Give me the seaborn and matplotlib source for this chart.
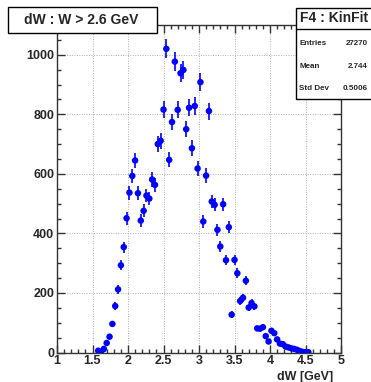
import numpy as np
import pandas as pd
import matplotlib
matplotlib.use("Agg")
import matplotlib.pyplot as plt
from matplotlib.patches import Rectangle
from matplotlib.ticker import MultipleLocator
import seaborn as sns

# Histogram of dW for events with W > 2.6 GeV (bin width 0.04 GeV)
dw_centers = [
    1.58, 1.62, 1.66, 1.70, 1.74, 1.78, 1.82, 1.86, 1.90, 1.94,
    1.98, 2.02, 2.06, 2.10, 2.14, 2.18, 2.22, 2.26, 2.30, 2.34,
    2.38, 2.42, 2.46, 2.50, 2.54, 2.58, 2.62, 2.66, 2.70, 2.74,
    2.78, 2.82, 2.86, 2.90, 2.94, 2.98, 3.02, 3.06, 3.10, 3.14,
    3.18, 3.22, 3.26, 3.30, 3.34, 3.38, 3.42, 3.46, 3.50, 3.54,
    3.58, 3.62, 3.66, 3.70, 3.74, 3.78, 3.82, 3.86, 3.90, 3.94,
    3.98, 4.02, 4.06, 4.10, 4.14, 4.18, 4.22, 4.26, 4.30, 4.34,
    4.38, 4.42, 4.46, 4.50, 4.54,
]
counts = [
    6, 2, 12, 32, 53, 96, 156, 212, 293, 354,
    451, 537, 593, 645, 535, 443, 476, 527, 517, 581,
    563, 700, 711, 816, 1020, 647, 774, 977, 815, 938,
    949, 750, 822, 686, 828, 618, 908, 440, 594, 811,
    507, 496, 412, 356, 498, 310, 421, 127, 311, 266,
    173, 184, 241, 151, 166, 155, 81, 80, 85, 55,
    37, 73, 65, 44, 30, 28, 20, 17, 14, 12,
    9, 5, 2, 1, 1,
]

hist_title = "dW : W > 2.6 GeV"
stats_title = "F4 : KinFit"
stats_labels = ["Entries", "Mean", "Std Dev"]
stats_values = ["27270", "2.744", "0.5006"]
x_label = "dW [GeV]"

df = pd.DataFrame({"dW": dw_centers, "n": counts})
df["err"] = np.sqrt(df["n"])

sns.set_theme(style="white")
plt.rcParams["font.family"] = ["Liberation Sans", "DejaVu Sans"]
plt.rcParams["font.weight"] = "bold"

W, H = 371, 382
fig = plt.figure(figsize=(W / 100, H / 100), dpi=100)
fig.patch.set_facecolor("white")

ax_l, ax_r, ax_t, ax_b = 57, 341, 25, 352.5
ax = fig.add_axes([ax_l / W, 1 - ax_b / H, (ax_r - ax_l) / W, (ax_b - ax_t) / H])
ax.set_facecolor("white")

# Poisson error bars, then markers
ax.errorbar(df["dW"], df["n"], yerr=df["err"], fmt="none", ecolor="#0000ff",
            elinewidth=1.2, capsize=0, zorder=3)
sns.scatterplot(data=df, x="dW", y="n", ax=ax, color="#0000ff", s=22,
                edgecolor="none", linewidth=0, zorder=4)

ax.set_xlim(1, 5)
ax.set_ylim(0, 1100)
ax.set_xlabel("")
ax.set_ylabel("")

ax.xaxis.set_major_locator(MultipleLocator(0.5))
ax.xaxis.set_minor_locator(MultipleLocator(0.1))
ax.yaxis.set_major_locator(MultipleLocator(200))
ax.yaxis.set_minor_locator(MultipleLocator(50))
ax.xaxis.set_major_formatter(matplotlib.ticker.FuncFormatter(lambda v, p: f"{v:g}"))

ax.tick_params(which="both", direction="in", top=True, right=True,
               bottom=True, left=True, color="#333333", width=1.0)
ax.tick_params(which="major", length=6, labelsize=9, pad=2)
ax.tick_params(which="minor", length=3)
for lab in ax.get_xticklabels() + ax.get_yticklabels():
    lab.set_fontweight("bold")

ax.grid(True, which="major", linestyle=(0, (1, 1.5)), color="#b0b0b0", linewidth=0.7)
ax.set_axisbelow(True)
for sp in ax.spines.values():
    sp.set_visible(True)
    sp.set_color("#333333")
    sp.set_linewidth(1.0)

fig.text(333 / W, 1 - 380 / H, x_label, ha="right", va="baseline",
         fontsize=9, fontweight="bold")

# Title box
def fig_rect(x0, y0, x1, y1, **kw):
    r = Rectangle((x0 / W, 1 - y1 / H), (x1 - x0) / W, (y1 - y0) / H,
                  transform=fig.transFigure, **kw)
    fig.patches.append(r)
    return r

fig_rect(8, 7, 157, 33, facecolor="white", edgecolor="black", linewidth=1.0, zorder=10)
fig.text(81 / W, 1 - 20.5 / H, hist_title, ha="center", va="center",
         fontsize=10, fontweight="bold", zorder=11)

# Statistics box
fig_rect(296, 8, 372, 99, facecolor="white", edgecolor="black", linewidth=1.0, zorder=10)
fig.add_artist(plt.Line2D([296 / W, 1], [1 - 29 / H, 1 - 29 / H],
                          transform=fig.transFigure, color="black", linewidth=1.0, zorder=11))
fig.text(334 / W, 1 - 18.5 / H, stats_title, ha="center", va="center",
         fontsize=10, fontweight="bold", zorder=11)
for i, (lab, val) in enumerate(zip(stats_labels, stats_values)):
    yy = 1 - (43.5 + 22.5 * i) / H
    fig.text(299 / W, yy, lab, ha="left", va="center", fontsize=5.8,
             fontweight="bold", zorder=11)
    fig.text(368 / W, yy, val, ha="right", va="center", fontsize=5.8,
             fontweight="bold", zorder=11)

fig.savefig("out.png", dpi=100, facecolor="white")
